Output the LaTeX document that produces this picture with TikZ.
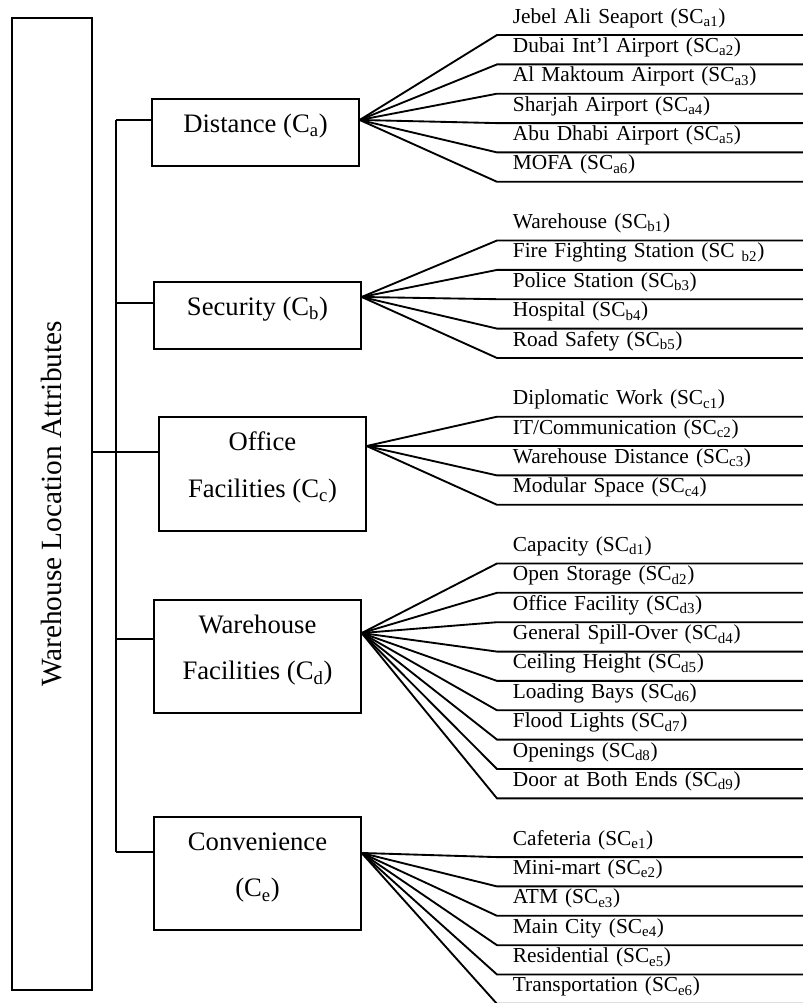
\documentclass[tikz,border=0pt]{standalone}
\usepackage{fontspec}
\setmainfont{Liberation Serif}

\tikzset{every picture/.style={line width=1.4pt}}
\tikzset{
  catbox/.style={draw, line width=1pt, minimum width=155.25pt, inner sep=0pt, align=center, font=\fontsize{20}{35}\selectfont, text height=0pt, text depth=0pt},
  subitem/.style={anchor=south west, inner xsep=11.25pt, inner ysep=0pt, text width=207pt, align=left, minimum height=21.75pt, text height=9pt, text depth=3.8pt, font=\fontsize{16}{19}\selectfont}
}

\begin{document}
\begin{tikzpicture}[x=0.75pt,y=0.75pt,yscale=-1]
\useasboundingbox (0,0) rectangle (803,1003);

% Text Node (rotated, so its south side is on the right)
\node [draw, rotate=90, minimum width=729pt, minimum height=60pt, inner sep=0pt, font=\fontsize{22}{26}\selectfont] (root) at (52,504) {Warehouse Location Attributes};

% Text Node
\node [catbox, minimum height=50.25pt] (ca) at (255.5,132.5) {Distance (C\textsubscript{a})};
% Text Node
\node [catbox, minimum height=50.25pt] (cb) at (257.5,315.5) {Security (C\textsubscript{b})};
% Text Node
\node [catbox, minimum height=85.5pt, text height=35.2pt] (cc) at (262.5,474) {Office\\Facilities (C\textsubscript{c})};
% Text Node
\node [catbox, minimum height=84.75pt, text height=35.2pt] (cd) at (257.5,656.5) {Warehouse\\Facilities (C\textsubscript{d})};
% Text Node
\node [catbox, minimum height=84.75pt, text height=35.2pt] (ce) at (257.5,873.5) {Convenience\\(C\textsubscript{e})};

%Straight Lines
\coordinate (sa) at (116,120);
\coordinate (sb) at (116,303);
\coordinate (sc) at (116,452);
\coordinate (sd) at (116,639);
\coordinate (se) at (116,852);
\draw (sa) -- (se);
\draw (sa) -- (ca.west |- sa);
\draw (sb) -- (cb.west |- sb);
\draw (root.south |- sc) -- (cc.west |- sc);
\draw (sd) -- (cd.west |- sd);
\draw (se) -- (ce.west |- se);

% fan points
\coordinate (fa) at ([yshift=-9.4pt]ca.east);
\coordinate (fb) at ([yshift=-13.9pt]cb.east);
\coordinate (fc) at ([yshift=-21pt]cc.east);
\coordinate (fd) at ([yshift=-17.6pt]cd.east);
\coordinate (fe) at ([yshift=-15.4pt]ce.east);

% Text Node
\node [subitem] (a1) at (497,35.0) {Jebel Ali Seaport (SC\textsubscript{a1})};
\node [subitem] (a2) at (497,64.4) {Dubai Int’l Airport (SC\textsubscript{a2})};
\node [subitem] (a3) at (497,93.7) {Al Maktoum Airport (SC\textsubscript{a3})};
\node [subitem] (a4) at (497,123.1) {Sharjah Airport (SC\textsubscript{a4})};
\node [subitem] (a5) at (497,152.4) {Abu Dhabi Airport (SC\textsubscript{a5})};
\node [subitem] (a6) at (497,181.8) {MOFA (SC\textsubscript{a6})};
% Text Node
\node [subitem] (b1) at (497,240.5) {Warehouse (SC\textsubscript{b1})};
\node [subitem] (b2) at (497,269.9) {Fire Fighting Station (SC\textsubscript{ b2})};
\node [subitem] (b3) at (497,299.2) {Police Station (SC\textsubscript{b3})};
\node [subitem] (b4) at (497,328.6) {Hospital (SC\textsubscript{b4})};
\node [subitem] (b5) at (497,358.0) {Road Safety (SC\textsubscript{b5})};
% Text Node
\node [subitem] (c1) at (497,416.7) {Diplomatic Work (SC\textsubscript{c1})};
\node [subitem] (c2) at (497,446.0) {IT/Communication (SC\textsubscript{c2})};
\node [subitem] (c3) at (497,475.4) {Warehouse Distance (SC\textsubscript{c3})};
\node [subitem] (c4) at (497,504.8) {Modular Space (SC\textsubscript{c4})};
% Text Node
\node [subitem] (d1) at (497,563.5) {Capacity (SC\textsubscript{d1})};
\node [subitem] (d2) at (497,592.8) {Open Storage (SC\textsubscript{d2})};
\node [subitem] (d3) at (497,622.2) {Office Facility (SC\textsubscript{d3})};
\node [subitem] (d4) at (497,651.6) {General Spill-Over (SC\textsubscript{d4})};
\node [subitem] (d5) at (497,680.9) {Ceiling Height (SC\textsubscript{d5})};
\node [subitem] (d6) at (497,710.3) {Loading Bays (SC\textsubscript{d6})};
\node [subitem] (d7) at (497,739.6) {Flood Lights (SC\textsubscript{d7})};
\node [subitem] (d8) at (497,769.0) {Openings (SC\textsubscript{d8})};
\node [subitem] (d9) at (497,798.4) {Door at Both Ends (SC\textsubscript{d9})};
% Text Node
\node [subitem] (e1) at (497,857.1) {Cafeteria (SC\textsubscript{e1})};
\node [subitem] (e2) at (497,886.4) {Mini-mart (SC\textsubscript{e2})};
\node [subitem] (e3) at (497,915.8) {ATM (SC\textsubscript{e3})};
\node [subitem] (e4) at (497,945.2) {Main City (SC\textsubscript{e4})};
\node [subitem] (e5) at (497,974.5) {Residential (SC\textsubscript{e5})};
\node [subitem] (e6) at (497,1003.9) {Transportation (SC\textsubscript{e6})};

%Straight Lines
\draw (fa) -- (a1.south west) -- (a1.south east);
\draw (fa) -- (a2.south west) -- (a2.south east);
\draw (fa) -- (a3.south west) -- (a3.south east);
\draw (fa) -- (a4.south west) -- (a4.south east);
\draw (fa) -- (a5.south west) -- (a5.south east);
\draw (fa) -- (a6.south west) -- (a6.south east);
%Straight Lines
\draw (fb) -- (b1.south west) -- (b1.south east);
\draw (fb) -- (b2.south west) -- (b2.south east);
\draw (fb) -- (b3.south west) -- (b3.south east);
\draw (fb) -- (b4.south west) -- (b4.south east);
\draw (fb) -- (b5.south west) -- (b5.south east);
%Straight Lines
\draw (fc) -- (c1.south west) -- (c1.south east);
\draw (fc) -- (c2.south west) -- (c2.south east);
\draw (fc) -- (c3.south west) -- (c3.south east);
\draw (fc) -- (c4.south west) -- (c4.south east);
%Straight Lines
\draw (fd) -- (d1.south west) -- (d1.south east);
\draw (fd) -- (d2.south west) -- (d2.south east);
\draw (fd) -- (d3.south west) -- (d3.south east);
\draw (fd) -- (d4.south west) -- (d4.south east);
\draw (fd) -- (d5.south west) -- (d5.south east);
\draw (fd) -- (d6.south west) -- (d6.south east);
\draw (fd) -- (d7.south west) -- (d7.south east);
\draw (fd) -- (d8.south west) -- (d8.south east);
\draw (fd) -- (d9.south west) -- (d9.south east);
%Straight Lines
\draw (fe) -- (e1.south west) -- (e1.south east);
\draw (fe) -- (e2.south west) -- (e2.south east);
\draw (fe) -- (e3.south west) -- (e3.south east);
\draw (fe) -- (e4.south west) -- (e4.south east);
\draw (fe) -- (e5.south west) -- (e5.south east);
\draw (fe) -- (e6.south west) -- (e6.south east);

\end{tikzpicture}
\end{document}
